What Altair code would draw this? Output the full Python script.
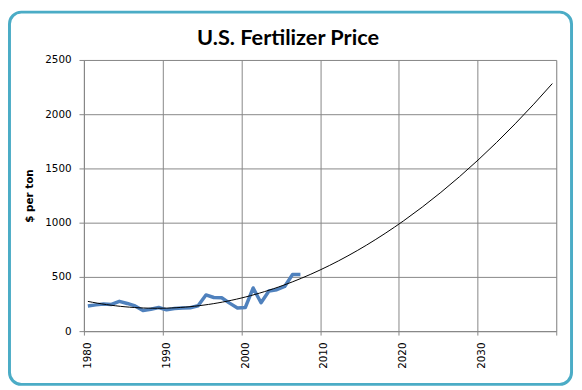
import altair as alt
import pandas as pd

years = list(range(1980, 2008))
prices = [232, 242, 250, 246, 275, 255, 232, 190, 202, 218,
          196, 208, 214, 216, 234, 334, 310, 308, 258, 214,
          218, 398, 262, 370, 382, 412, 522, 522]
title_text = ["U.S. Fertilizer Price"]

df = pd.DataFrame({"year": years, "price": prices})

x_ticks = [1979.5 + 10 * k for k in range(7)]
y_ticks = [0, 500, 1000, 1500, 2000, 2500]

FONT = "DejaVu Sans"

xscale = alt.Scale(domain=[1979.5, 2039.5], nice=False, zero=False)
yscale = alt.Scale(domain=[0, 2500], nice=False)

xaxis = alt.Axis(values=x_ticks, grid=True, gridColor="#868686", gridWidth=1,
                 domainColor="#868686", tickColor="#868686", tickSize=4,
                 labelAngle=270, labelOffset=4, labelPadding=7,
                 labelExpr="datum.value > 2039 ? '' : format(datum.value + 0.5, 'd')",
                 labelFont=FONT, labelFontSize=10.5, labelColor="#000000",
                 title=None)
yaxis = alt.Axis(values=y_ticks, grid=True, gridColor="#868686", gridWidth=1,
                 domainColor="#868686", tickColor="#868686", tickSize=5,
                 format="d",
                 labelPadding=8, labelFont=FONT, labelFontSize=10.5,
                 labelColor="#000000", title="$ per ton", titleFont=FONT,
                 titleFontSize=10.5, titleFontWeight="bold", titleColor="#000000",
                 titlePadding=10)

base = alt.Chart(df)

border = alt.Chart(pd.DataFrame({"a": [0]})).mark_rect(
    filled=False, color="#4BACC6", strokeWidth=3, cornerRadius=12
).encode(x=alt.value(-75.5), x2=alt.value(494.5), y=alt.value(-48.5), y2=alt.value(329))

title = alt.Chart(pd.DataFrame({"t": title_text})).mark_text(
    font="Lato", fontSize=22, fontWeight="bold", color="#000000",
    align="center", baseline="alphabetic"
).encode(text="t:N", x=alt.value(207), y=alt.value(-15))

line = base.mark_line(color="#4F81BD", strokeWidth=3.5, strokeJoin="round").encode(
    x=alt.X("year:Q", scale=xscale, axis=xaxis),
    y=alt.Y("price:Q", scale=yscale, axis=yaxis),
)

trend = base.transform_regression(
    "year", "price", method="poly", order=2, extent=[1980, 2039]
).mark_line(color="#000000", strokeWidth=1).encode(
    x=alt.X("year:Q", scale=xscale),
    y=alt.Y("price:Q", scale=yscale),
)

chart = alt.layer(line, trend, border, title).properties(
    width=479, height=275,
    autosize=alt.AutoSizeParams(type="none"),
    padding={"left": 77, "top": 50, "right": 18, "bottom": 57},
).configure_view(stroke=None, fill="#F2F2F2").configure(background="white")

chart.save("out.html", embed_options={"renderer": "svg", "actions": False})
